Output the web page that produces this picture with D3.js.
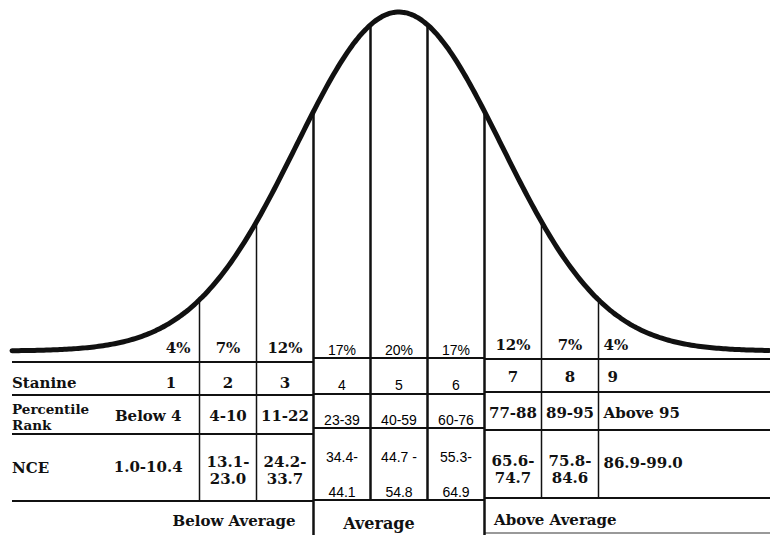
<!DOCTYPE html>
<html>
<head>
<meta charset="utf-8">
<script src="https://cdn.jsdelivr.net/npm/d3@7"></script>
<style>
  body { margin: 0; background: #fff; }
  svg { display: block; }
  .serif { font-family: "DejaVu Serif", serif; font-weight: bold; font-size: 15px; fill: #111; }
  .sans { font-family: "Liberation Sans", Arial, sans-serif; font-size: 14px; fill: #000; }
</style>
</head>
<body>
<svg width="770" height="535"></svg>
<script>
// stanine data
var stanines = [1, 2, 3, 4, 5, 6, 7, 8, 9];
var percents = ["4%", "7%", "12%", "17%", "20%", "17%", "12%", "7%", "4%"];
var percentileRanks = ["Below 4", "4-10", "11-22", "23-39", "40-59", "60-76", "77-88", "89-95", "Above 95"];
var nceRanges = [["1.0-10.4"], ["13.1-", "23.0"], ["24.2-", "33.7"], ["34.4-", "44.1"], ["44.7 -", "54.8"],
                 ["55.3-", "64.9"], ["65.6-", "74.7"], ["75.8-", "84.6"], ["86.9-99.0"]];
var rowLabels = [["Stanine"], ["Percentile", "Rank"], ["NCE"]];
var groups = ["Below Average", "Average", "Above Average"];
var boundaries = [-1.75, -1.25, -0.75, -0.25, 0.25, 0.75, 1.25, 1.75]; // z units
var curveSd = 0.9; // curve shape, z units

var svg = d3.select('svg');

var x = d3.scaleLinear().domain([-1.75, 1.75]).range([199.5, 598.5]);
var y = d3.scaleLinear().domain([0, 1]).range([351, 12]);

function dens(z) { return Math.exp(-z * z / (2 * curveSd * curveSd)); }

// the three pasted blocks of the table have slightly different rows
var sections = [
  {cols: [0, 1, 2], x0: 12, x1: x(-0.75), lines: [362, 395, 434, 501], font: 'serif',
   base: {pct: 353, st: 388, pr: 421, nce1: 472, nce2: [467, 484]}},
  {cols: [3, 4, 5], x0: x(-0.75), x1: x(0.75), lines: [358, 394, 428, 500], font: 'sans',
   base: {pct: 355, st: 390, pr: 425, nce1: 462, nce2: [462, 497]}},
  {cols: [6, 7, 8], x0: x(0.75), x1: 770, lines: [359, 392, 430, 498], font: 'serif',
   base: {pct: 350, st: 382, pr: 418, nce1: 468, nce2: [466, 483]}}
];

// horizontal rules
sections.forEach(function (s) {
  svg.append('g').selectAll('line')
    .data(s.lines)
    .enter().append('line')
    .attr('x1', s.x0).attr('x2', s.x1)
    .attr('y1', function (d) { return d; }).attr('y2', function (d) { return d; })
    .attr('stroke', '#111').attr('stroke-width', 2);
});
svg.append('line')
  .attr('x1', x(0.75)).attr('x2', 770).attr('y1', 533).attr('y2', 533)
  .attr('stroke', '#777').attr('stroke-width', 1.5);

// vertical lines from the curve down into the table
var lineBottom = [501, 501, 535, 500, 500, 535, 498, 498];
var lineWidth = [1.5, 1.5, 2.5, 2.5, 2.5, 2.5, 1.5, 1.5];
svg.append('g').selectAll('line')
  .data(boundaries)
  .enter().append('line')
  .attr('x1', function (d) { return x(d); }).attr('x2', function (d) { return x(d); })
  .attr('y1', function (d) { return y(dens(d)); })
  .attr('y2', function (d, i) { return lineBottom[i]; })
  .attr('stroke', '#111')
  .attr('stroke-width', function (d, i) { return lineWidth[i]; });

// normal curve
var zs = d3.range(x.invert(12), x.invert(771), 0.02);
var line = d3.line()
  .x(function (d) { return x(d); })
  .y(function (d) { return y(dens(d)); })
  .curve(d3.curveBasis);
svg.append('path')
  .datum(zs)
  .attr('d', line)
  .attr('fill', 'none')
  .attr('stroke', '#111')
  .attr('stroke-width', 5)
  .attr('stroke-linecap', 'round');

// cell anchors
function colX(i) {
  if (i == 0) return x(-2.2);
  if (i == 8) return x(1.75) + 5;
  return (x(boundaries[i - 1]) + x(boundaries[i])) / 2;
}
function anchor(i) { return i == 8 ? 'start' : 'middle'; }

sections.forEach(function (s) {
  var g = svg.append('g').attr('class', s.font);
  s.cols.forEach(function (i) {
    // percent row
    g.append('text')
      .attr('x', i == 0 ? x(-1.75) - 9 : colX(i))
      .attr('y', s.base.pct)
      .attr('text-anchor', i == 0 ? 'end' : anchor(i))
      .text(percents[i]);
    // stanine row
    g.append('text')
      .attr('x', i == 0 ? x(-2.0) : (i == 8 ? colX(i) + 4 : colX(i)))
      .attr('y', s.base.st)
      .attr('text-anchor', anchor(i))
      .text(stanines[i]);
    // percentile rank row
    g.append('text')
      .attr('x', colX(i)).attr('y', s.base.pr)
      .attr('text-anchor', anchor(i))
      .text(percentileRanks[i]);
    // NCE row, one or two lines
    var parts = nceRanges[i];
    parts.forEach(function (p, k) {
      g.append('text')
        .attr('x', colX(i))
        .attr('y', parts.length == 1 ? s.base.nce1 : s.base.nce2[k])
        .attr('text-anchor', anchor(i))
        .text(p);
    });
  });
});

// row labels
var labelBase = [[388], [414, 430], [473]];
var lab = svg.append('g').attr('class', 'serif');
rowLabels.forEach(function (r, j) {
  r.forEach(function (t, k) {
    lab.append('text').attr('x', 12).attr('y', labelBase[j][k])
      .style('font-size', r.length > 1 ? '13.5px' : null)
      .text(t);
  });
});

// group captions under the table
var groupX = [234, 379, 494];
var groupY = [526, 529, 525];
svg.append('g').attr('class', 'serif').selectAll('text')
  .data(groups)
  .enter().append('text')
  .attr('x', function (d, i) { return groupX[i]; })
  .attr('y', function (d, i) { return groupY[i]; })
  .attr('text-anchor', function (d, i) { return i == 2 ? 'start' : 'middle'; })
  .style('font-size', function (d, i) { return i == 1 ? '16px' : null; })
  .text(function (d) { return d; });
</script>
</body>
</html>
